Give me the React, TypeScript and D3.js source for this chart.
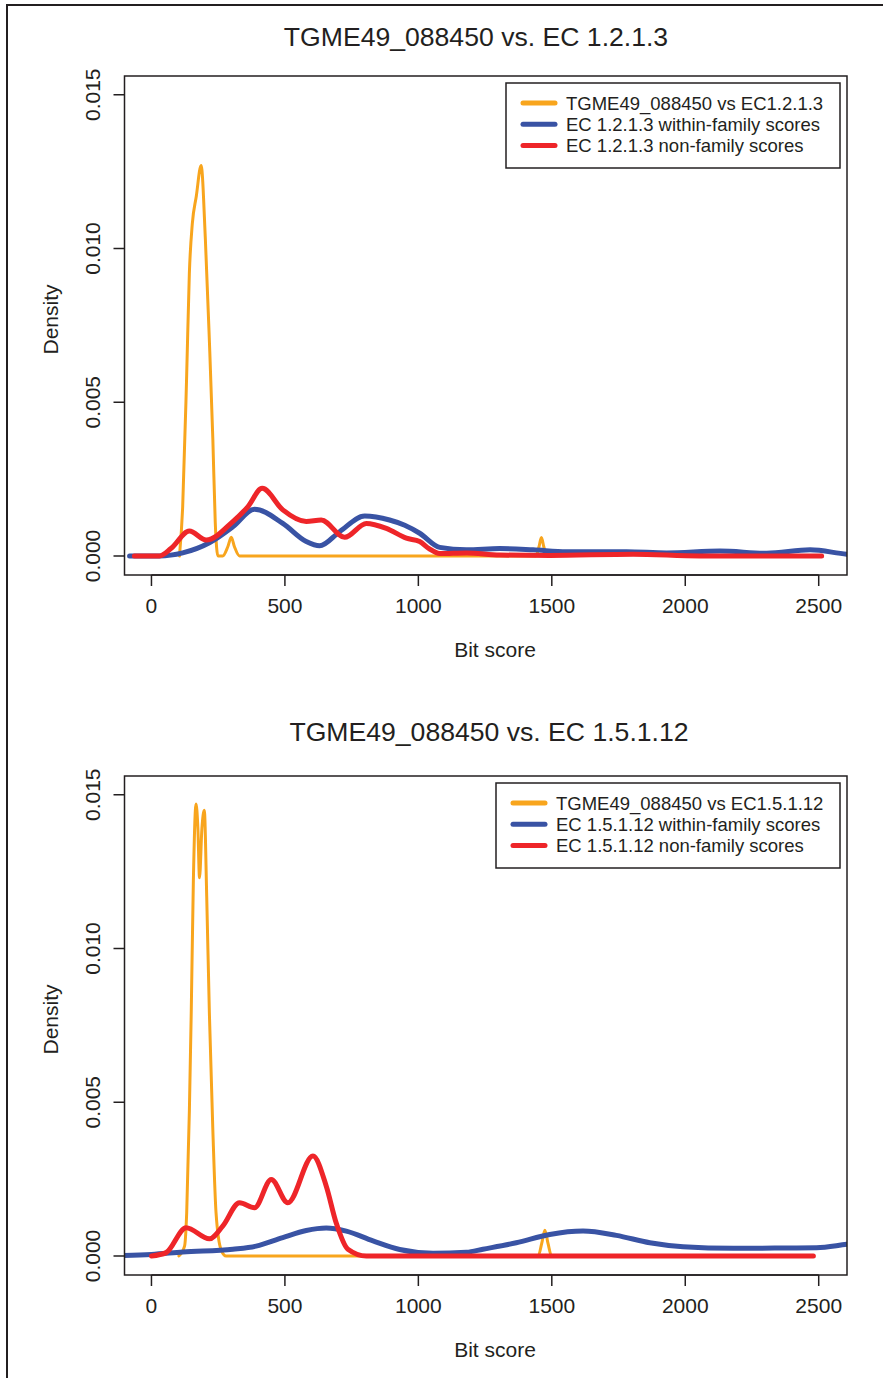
import React from 'react';
import * as d3 from 'd3';

// bit score ticks and density ticks (shared by both panels)
const xTicks = [0, 500, 1000, 1500, 2000, 2500];
const yTicks = [0, 0.005, 0.01, 0.015];
const yTickLabels = ['0.000', '0.005', '0.010', '0.015'];

// panel 1: TGME49_088450 vs. EC 1.2.1.3  — [bit score, density]
const p1Query: [number, number][] = [
  [105, 0], [117, 0.0016], [132, 0.0059], [142, 0.0092], [153, 0.0108], [168, 0.0117],
  [186, 0.0127], [202, 0.0103], [217, 0.007], [230, 0.0038], [239, 0.0011], [249, 0],
  [267, 0], [286, 0.0003], [299, 0.00061], [311, 0.0003], [330, 0],
  [1440, 0], [1452, 0.0003], [1461, 0.0006], [1470, 0.0003], [1482, 0], [1510, 0],
];
const p1Within: [number, number][] = [
  [-82, 0], [30, 0], [117, 0.0001], [217, 0.00043], [305, 0.00095], [386, 0.00152],
  [492, 0.00106], [580, 0.00047], [630, 0.00033], [705, 0.00079], [799, 0.0013],
  [892, 0.00117], [949, 0.001], [1005, 0.00074], [1080, 0.00028], [1180, 0.0002],
  [1305, 0.00024], [1430, 0.0002], [1555, 0.00014], [1780, 0.00014], [1930, 0.0001],
  [2130, 0.00016], [2305, 0.00009], [2468, 0.0002], [2605, 0.00006], [2680, 0.00002],
];
const p1Non: [number, number][] = [
  [-64, 0], [30, 0], [74, 0.00025], [142, 0.00081], [205, 0.00052], [305, 0.00112],
  [361, 0.0016], [415, 0.0022], [492, 0.0015], [580, 0.00112], [636, 0.00117],
  [724, 0.00061], [805, 0.00106], [880, 0.0009], [955, 0.00058], [1005, 0.00047],
  [1040, 0.00024], [1080, 0.00008], [1180, 0.0001], [1305, 0.00003], [1492, 0.00002],
  [1805, 0.00006], [2055, 0], [2511, 0],
];

// panel 2: TGME49_088450 vs. EC 1.5.1.12
const p2Query: [number, number][] = [
  [103, 0], [124, 0.00032], [132, 0.0014], [142, 0.0047], [149, 0.0079], [157, 0.0122],
  [167, 0.0147], [174, 0.0139], [180, 0.0123], [189, 0.0139], [198, 0.0145], [207, 0.0117],
  [217, 0.0079], [230, 0.0041], [242, 0.0014], [261, 0.0002], [280, 0],
  [1440, 0], [1449, 0], [1462, 0.0004], [1474, 0.00084], [1486, 0.0004], [1499, 0], [1530, 0],
];
const p2Within: [number, number][] = [
  [-160, 0.00001], [0, 0.00005], [117, 0.00013], [305, 0.00022], [392, 0.00032],
  [492, 0.0006], [580, 0.00083], [655, 0.00091], [730, 0.00081], [830, 0.00049],
  [930, 0.00021], [1055, 0.00009], [1180, 0.00012], [1242, 0.00022], [1367, 0.00043],
  [1492, 0.0007], [1617, 0.00081], [1742, 0.00067], [1867, 0.00043], [1992, 0.0003],
  [2180, 0.00025], [2367, 0.00026], [2492, 0.00027], [2605, 0.00038], [2680, 0.00045],
];
const p2Non: [number, number][] = [
  [0, 0], [55, 0.00011], [130, 0.00092], [217, 0.00056], [267, 0.00097], [330, 0.00173],
  [386, 0.00157], [449, 0.00249], [511, 0.00173], [605, 0.00325], [655, 0.00227],
  [692, 0.00108], [736, 0.00022], [805, 0], [2480, 0],
];

const COLORS = { query: '#f8a51d', within: '#3953a4', non: '#ee2529' };
const INK = '#231f20';
const FONT = 'Liberation Sans, Arial, Helvetica, sans-serif';

const W = 883;
const H = 1378;
const box = { left: 124.5, right: 847, top: 76, bottom: 575 };

const x = d3.scaleLinear().domain([-101, 2606]).range([box.left, box.right]);
const y = d3.scaleLinear().domain([-0.000618, 0.01561]).range([box.bottom, box.top]);

const line = d3.line<[number, number]>()
  .x(d => x(d[0]))
  .y(d => y(d[1]))
  .curve(d3.curveMonotoneX);

type PanelProps = {
  id: string;
  offset: number;
  title: string;
  titleX: number;
  titleY: number;
  labels: string[];
  query: [number, number][];
  within: [number, number][];
  non: [number, number][];
  legendLeft: number;
};

function Panel({ id, offset, title, titleX, titleY, labels, query, within, non, legendLeft }: PanelProps) {
  const legendTop = 83;
  const legendColors = [COLORS.query, COLORS.within, COLORS.non];
  return (
    <g transform={`translate(0,${offset})`}>
      <defs>
        <clipPath id={id}>
          <rect x={box.left} y={box.top} width={box.right - box.left} height={box.bottom - box.top} />
        </clipPath>
      </defs>
      <text x={titleX} y={titleY} textAnchor="middle" dominantBaseline="central"
        fontSize={26.6} fill={INK}>{title}</text>

      <g clipPath={`url(#${id})`} fill="none" strokeLinecap="round" strokeLinejoin="round">
        <path d={line(query) ?? ''} stroke={COLORS.query} strokeWidth={3} />
        <path d={line(within) ?? ''} stroke={COLORS.within} strokeWidth={5} />
        <path d={line(non) ?? ''} stroke={COLORS.non} strokeWidth={5} />
      </g>

      <rect x={box.left} y={box.top} width={box.right - box.left} height={box.bottom - box.top}
        fill="none" stroke={INK} strokeWidth={1.5} />

      {/* x axis */}
      <line x1={x(xTicks[0])} x2={x(xTicks[xTicks.length - 1])} y1={box.bottom} y2={box.bottom} stroke={INK} strokeWidth={1.5} />
      {xTicks.map(t => (
        <g key={t} transform={`translate(${x(t)},${box.bottom})`}>
          <line y2={11} stroke={INK} strokeWidth={1.5} />
          <text y={30} textAnchor="middle" dominantBaseline="central" fontSize={21} fill={INK}>{t}</text>
        </g>
      ))}
      <text x={495} y={649} textAnchor="middle" dominantBaseline="central"
        fontSize={21} fill={INK}>Bit score</text>

      {/* y axis */}
      {yTicks.map((t, i) => (
        <g key={t} transform={`translate(${box.left},${y(t)})`}>
          <line x2={-11} stroke={INK} strokeWidth={1.5} />
          <text transform="translate(-32,0) rotate(-90)" textAnchor="middle" dominantBaseline="central"
            fontSize={21} fill={INK}>{yTickLabels[i]}</text>
        </g>
      ))}
      <text transform={`translate(50,${(box.top + box.bottom) / 2 - 6}) rotate(-90)`} textAnchor="middle"
        dominantBaseline="central" fontSize={21} fill={INK}>Density</text>

      {/* legend */}
      <rect x={legendLeft} y={legendTop} width={840 - legendLeft} height={85}
        fill="white" stroke={INK} strokeWidth={1.5} />
      {labels.map((lab, i) => (
        <g key={lab} transform={`translate(${legendLeft},${legendTop + 20 + i * 21.3})`}>
          <line x1={17} x2={49} stroke={legendColors[i]} strokeWidth={5} strokeLinecap="round" />
          <text x={60} dominantBaseline="central" fontSize={18.5} fill={INK}>{lab}</text>
        </g>
      ))}
    </g>
  );
}

export default function App() {
  return (
    <svg width={W} height={H} viewBox={`0 0 ${W} ${H}`}
      style={{ position: 'absolute', left: 0, top: 0, background: 'white', fontFamily: FONT }}>
      <rect x={0} y={0} width={W} height={H} fill="white" />
      <path d={`M${W + 5},5 H7 V${H + 5}`} fill="none" stroke={INK} strokeWidth={2} />
      <Panel id="clip1" offset={0} title="TGME49_088450 vs. EC 1.2.1.3" titleX={476} titleY={37}
        labels={['TGME49_088450 vs EC1.2.1.3', 'EC 1.2.1.3 within-family scores', 'EC 1.2.1.3 non-family scores']}
        query={p1Query} within={p1Within} non={p1Non} legendLeft={506} />
      <Panel id="clip2" offset={700} title="TGME49_088450 vs. EC 1.5.1.12" titleX={489} titleY={32}
        labels={['TGME49_088450 vs EC1.5.1.12', 'EC 1.5.1.12 within-family scores', 'EC 1.5.1.12 non-family scores']}
        query={p2Query} within={p2Within} non={p2Non} legendLeft={496} />
    </svg>
  );
}
